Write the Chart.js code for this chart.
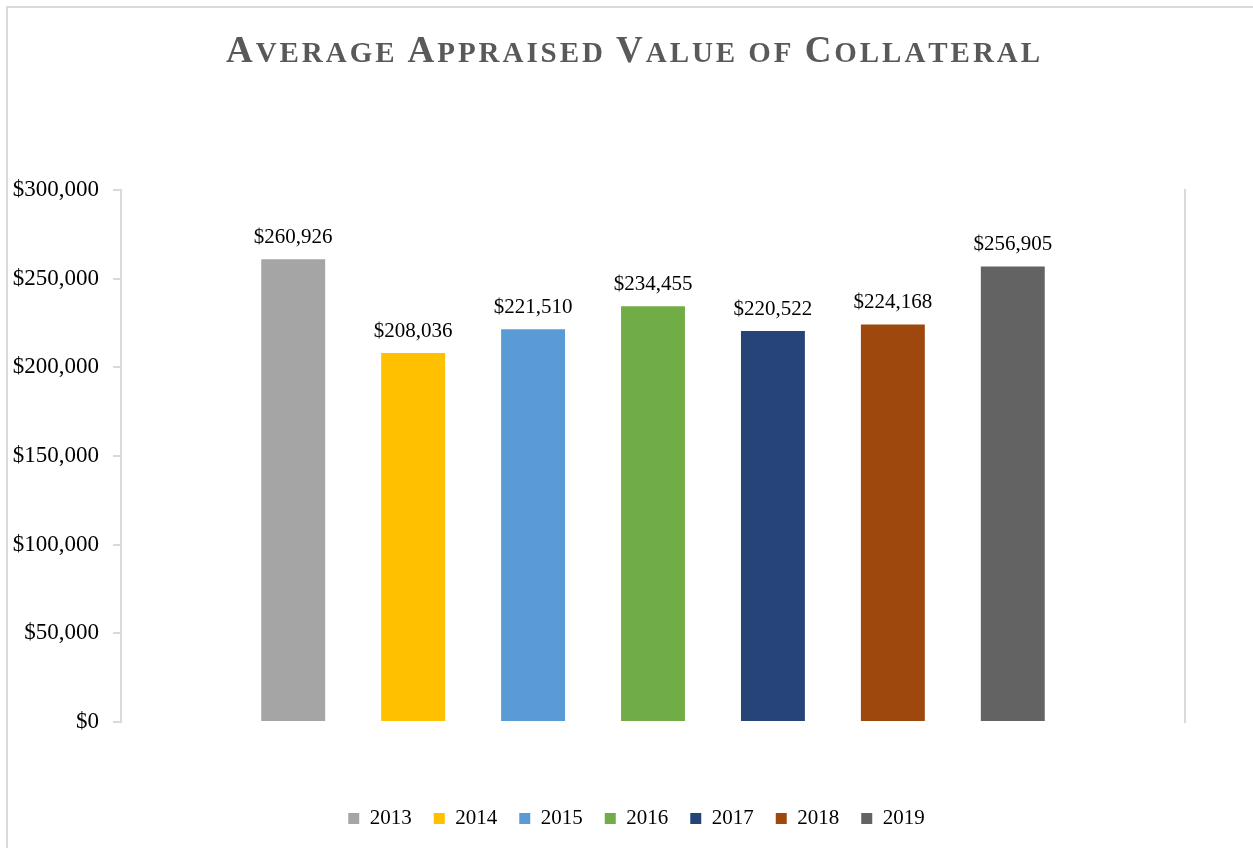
<!DOCTYPE html>
<html>
<head>
<meta charset="utf-8">
<script src="https://cdn.jsdelivr.net/npm/chart.js@4/dist/chart.umd.min.js"></script>
<style>
  html, body { margin: 0; padding: 0; background: #fff; }
  #wrap { width: 1253px; height: 848px; }
</style>
</head>
<body>
<div id="wrap"><canvas id="myChart" width="1253" height="848"></canvas></div>
<script>
var years = ["2013", "2014", "2015", "2016", "2017", "2018", "2019"];
var values = [260926, 208036, 221510, 234455, 220522, 224168, 256905];
var colors = ["#A5A5A5", "#FFC000", "#5B9BD5", "#70AD47", "#264478", "#9E480E", "#636363"];
var yMin = 0, yMax = 300000, yStep = 50000;
var title = "Average Appraised Value of Collateral";

var serif = "'Liberation Serif', 'Times New Roman', serif";

function money(v) {
  return "$" + v.toLocaleString("en-US");
}

// frame + small caps title
var decor = {
  id: "decor",
  beforeDraw: function (chart) {
    var ctx = chart.ctx;
    ctx.save();
    ctx.fillStyle = "#fff";
    ctx.fillRect(0, 0, chart.width, chart.height);
    ctx.fillStyle = "#d9d9d9";
    ctx.fillRect(6, 6, chart.width - 6, 2);
    ctx.fillRect(6, 6, 2, chart.height - 6);
    ctx.restore();
  },
  afterDraw: function (chart) {
    var ctx = chart.ctx;
    ctx.save();
    var big = "bold 37px " + serif, small = "bold 29px " + serif;
    var parts = [];
    title.split("").forEach(function (ch) {
      var up = ch.toUpperCase();
      var isCap = ch !== " " && ch === up;
      parts.push({ t: up, f: isCap ? big : small });
    });
    var natural = 0;
    parts.forEach(function (p) { ctx.font = p.f; p.w = ctx.measureText(p.t).width; natural += p.w; });
    var target = 814;
    var sp = (target - natural) / (parts.length - 1);
    var x = 633 - target / 2;
    ctx.fillStyle = "#595959";
    ctx.textBaseline = "alphabetic";
    ctx.textAlign = "left";
    parts.forEach(function (p) {
      ctx.font = p.f;
      ctx.fillText(p.t, x, 62);
      x += p.w + sp;
    });
    ctx.restore();
  }
};

// value labels above bars
var barLabels = {
  id: "barLabels",
  afterDatasetsDraw: function (chart) {
    var ctx = chart.ctx;
    ctx.save();
    ctx.font = "21px " + serif;
    ctx.fillStyle = "#000";
    ctx.textAlign = "center";
    ctx.textBaseline = "alphabetic";
    chart.data.datasets.forEach(function (ds, i) {
      var bar = chart.getDatasetMeta(i).data[0];
      ctx.fillText(money(ds.data[0]), bar.x, bar.y - 16);
    });
    ctx.restore();
  }
};

new Chart("myChart", {
  type: "bar",
  data: {
    labels: [""],
    datasets: years.map(function (y, i) {
      return {
        label: y,
        data: [values[i]],
        backgroundColor: colors[i],
        categoryPercentage: 0.789,
        barPercentage: 0.533,
        yAxisID: "y"
      };
    })
  },
  options: {
    responsive: false,
    animation: false,
    layout: { padding: { top: 190, left: 8, right: -12, bottom: 9 } },
    plugins: {
      legend: {
        display: true,
        position: "bottom",
        labels: {
          boxWidth: 11,
          boxHeight: 11,
          padding: 22,
          color: "#000",
          font: { family: serif, size: 21 }
        }
      },
      title: { display: false },
      tooltip: { enabled: false }
    },
    scales: {
      x: {
        display: true,
        grid: { display: false },
        border: { display: false },
        ticks: { display: false },
        afterFit: function (s) { s.height = 64; }
      },
      y: {
        position: "left",
        min: yMin,
        max: yMax,
        ticks: {
          stepSize: yStep,
          padding: 14,
          color: "#000",
          font: { family: serif, size: 23 },
          callback: function (v) { return money(v); }
        },
        grid: { display: true, drawOnChartArea: false, drawTicks: true, tickLength: 8, color: "#d9d9d9", lineWidth: 2 },
        border: { display: true, color: "#d9d9d9", width: 2 },
        afterFit: function (s) { s.width = 113; }
      },
      y2: {
        position: "right",
        min: yMin,
        max: yMax,
        ticks: { display: false },
        grid: { display: false },
        border: { display: true, color: "#d9d9d9", width: 2 },
        afterFit: function (s) { s.width = 80; }
      }
    }
  },
  plugins: [decor, barLabels]
});
</script>
</body>
</html>
